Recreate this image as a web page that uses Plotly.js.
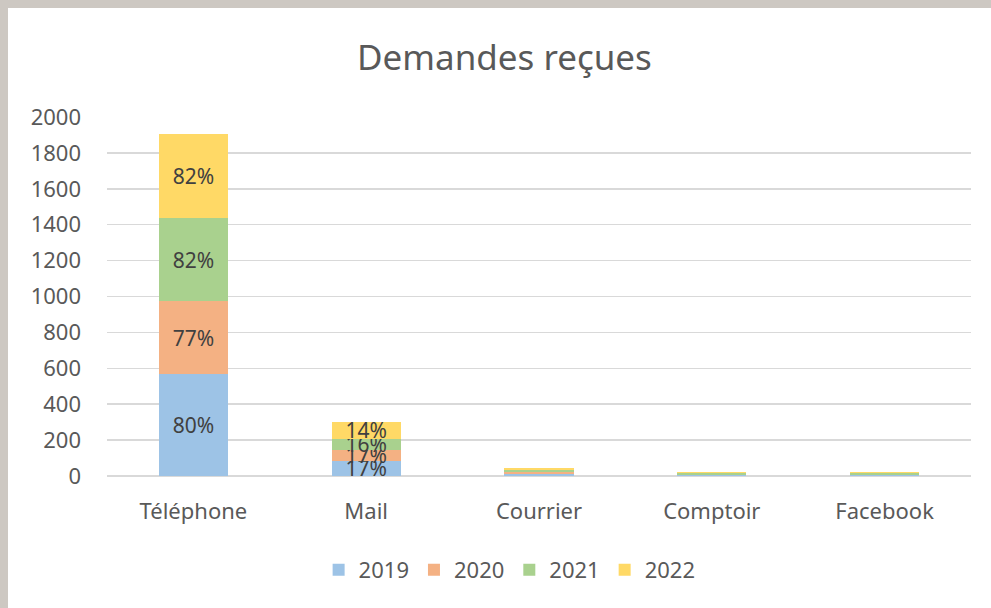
<!DOCTYPE html>
<html>
<head>
<meta charset="utf-8">
<script src="https://cdn.plot.ly/plotly-3.0.1.min.js"></script>
<style>
  html, body { margin: 0; padding: 0; background: #cdc8c2; }
  #chart { position: absolute; left: 8px; top: 8px; width: 983px; height: 600px; background: #fff; }
</style>
</head>
<body>
<div id="chart"></div>
<script>
// categories and series
var categories = ['Téléphone', 'Mail', 'Courrier', 'Comptoir', 'Facebook'];
var years = ['2019', '2020', '2021', '2022'];

var values2019 = [568, 84, 10, 3, 3];
var values2020 = [407, 61, 12, 3, 3];
var values2021 = [462, 61, 12, 8, 8];
var values2022 = [468, 95, 10, 8, 8];

// labels shown on the bars (empty where the segment is too thin)
var labels2019 = ['80%', '17%', '', '', ''];
var labels2020 = ['77%', '17%', '', '', ''];
var labels2021 = ['82%', '16%', '', '', ''];
var labels2022 = ['82%', '14%', '', '', ''];

var colors = ['#9dc3e6', '#f4b183', '#a9d18e', '#ffd966'];
var font = 'Noto Sans, sans-serif';
var textColor = '#595959';

var series = [values2019, values2020, values2021, values2022];
var labels = [labels2019, labels2020, labels2021, labels2022];

var data = series.map(function (vals, i) {
    return {
        type: 'bar',
        name: years[i],
        x: categories,
        y: vals,
        text: labels[i],
        textposition: 'inside',
        insidetextanchor: 'middle',
        textangle: 0,
        constraintext: 'none',
        textfont: { family: font, size: 21, color: '#404040' },
        marker: { color: colors[i] },
        hoverinfo: 'skip'
    };
});

var layout = {
    width: 983,
    height: 600,
    barmode: 'stack',
    bargap: 0.6,
    paper_bgcolor: '#ffffff',
    plot_bgcolor: '#ffffff',
    margin: { l: 99, r: 20, t: 109, b: 132 },
    title: {
        text: 'Demandes reçues',
        font: { family: font, size: 35, color: textColor },
        x: 0.505, xanchor: 'center',
        y: 1 - 50 / 600, yanchor: 'middle'
    },
    font: { family: font, size: 22, color: textColor },
    xaxis: {
        showline: false,
        ticks: '',
        ticklabelstandoff: 20,
        tickfont: { family: font, size: 22, color: textColor },
        fixedrange: true
    },
    yaxis: {
        range: [0, 2000],
        dtick: 200,
        showgrid: true,
        gridcolor: '#d9d9d9',
        gridwidth: 1.5,
        zeroline: true,
        zerolinecolor: '#d9d9d9',
        zerolinewidth: 1.5,
        ticks: '',
        ticklabelstandoff: 25,
        tickfont: { family: font, size: 22, color: textColor },
        fixedrange: true
    },
    showlegend: true,
    legend: {
        orientation: 'h',
        x: 0.466, xanchor: 'center',
        y: -0.262, yanchor: 'middle',
        traceorder: 'normal',
        font: { family: font, size: 22, color: textColor },
        itemwidth: 30
    }
};

Plotly.newPlot('chart', data, layout, { displayModeBar: false, staticPlot: true });
</script>
</body>
</html>
